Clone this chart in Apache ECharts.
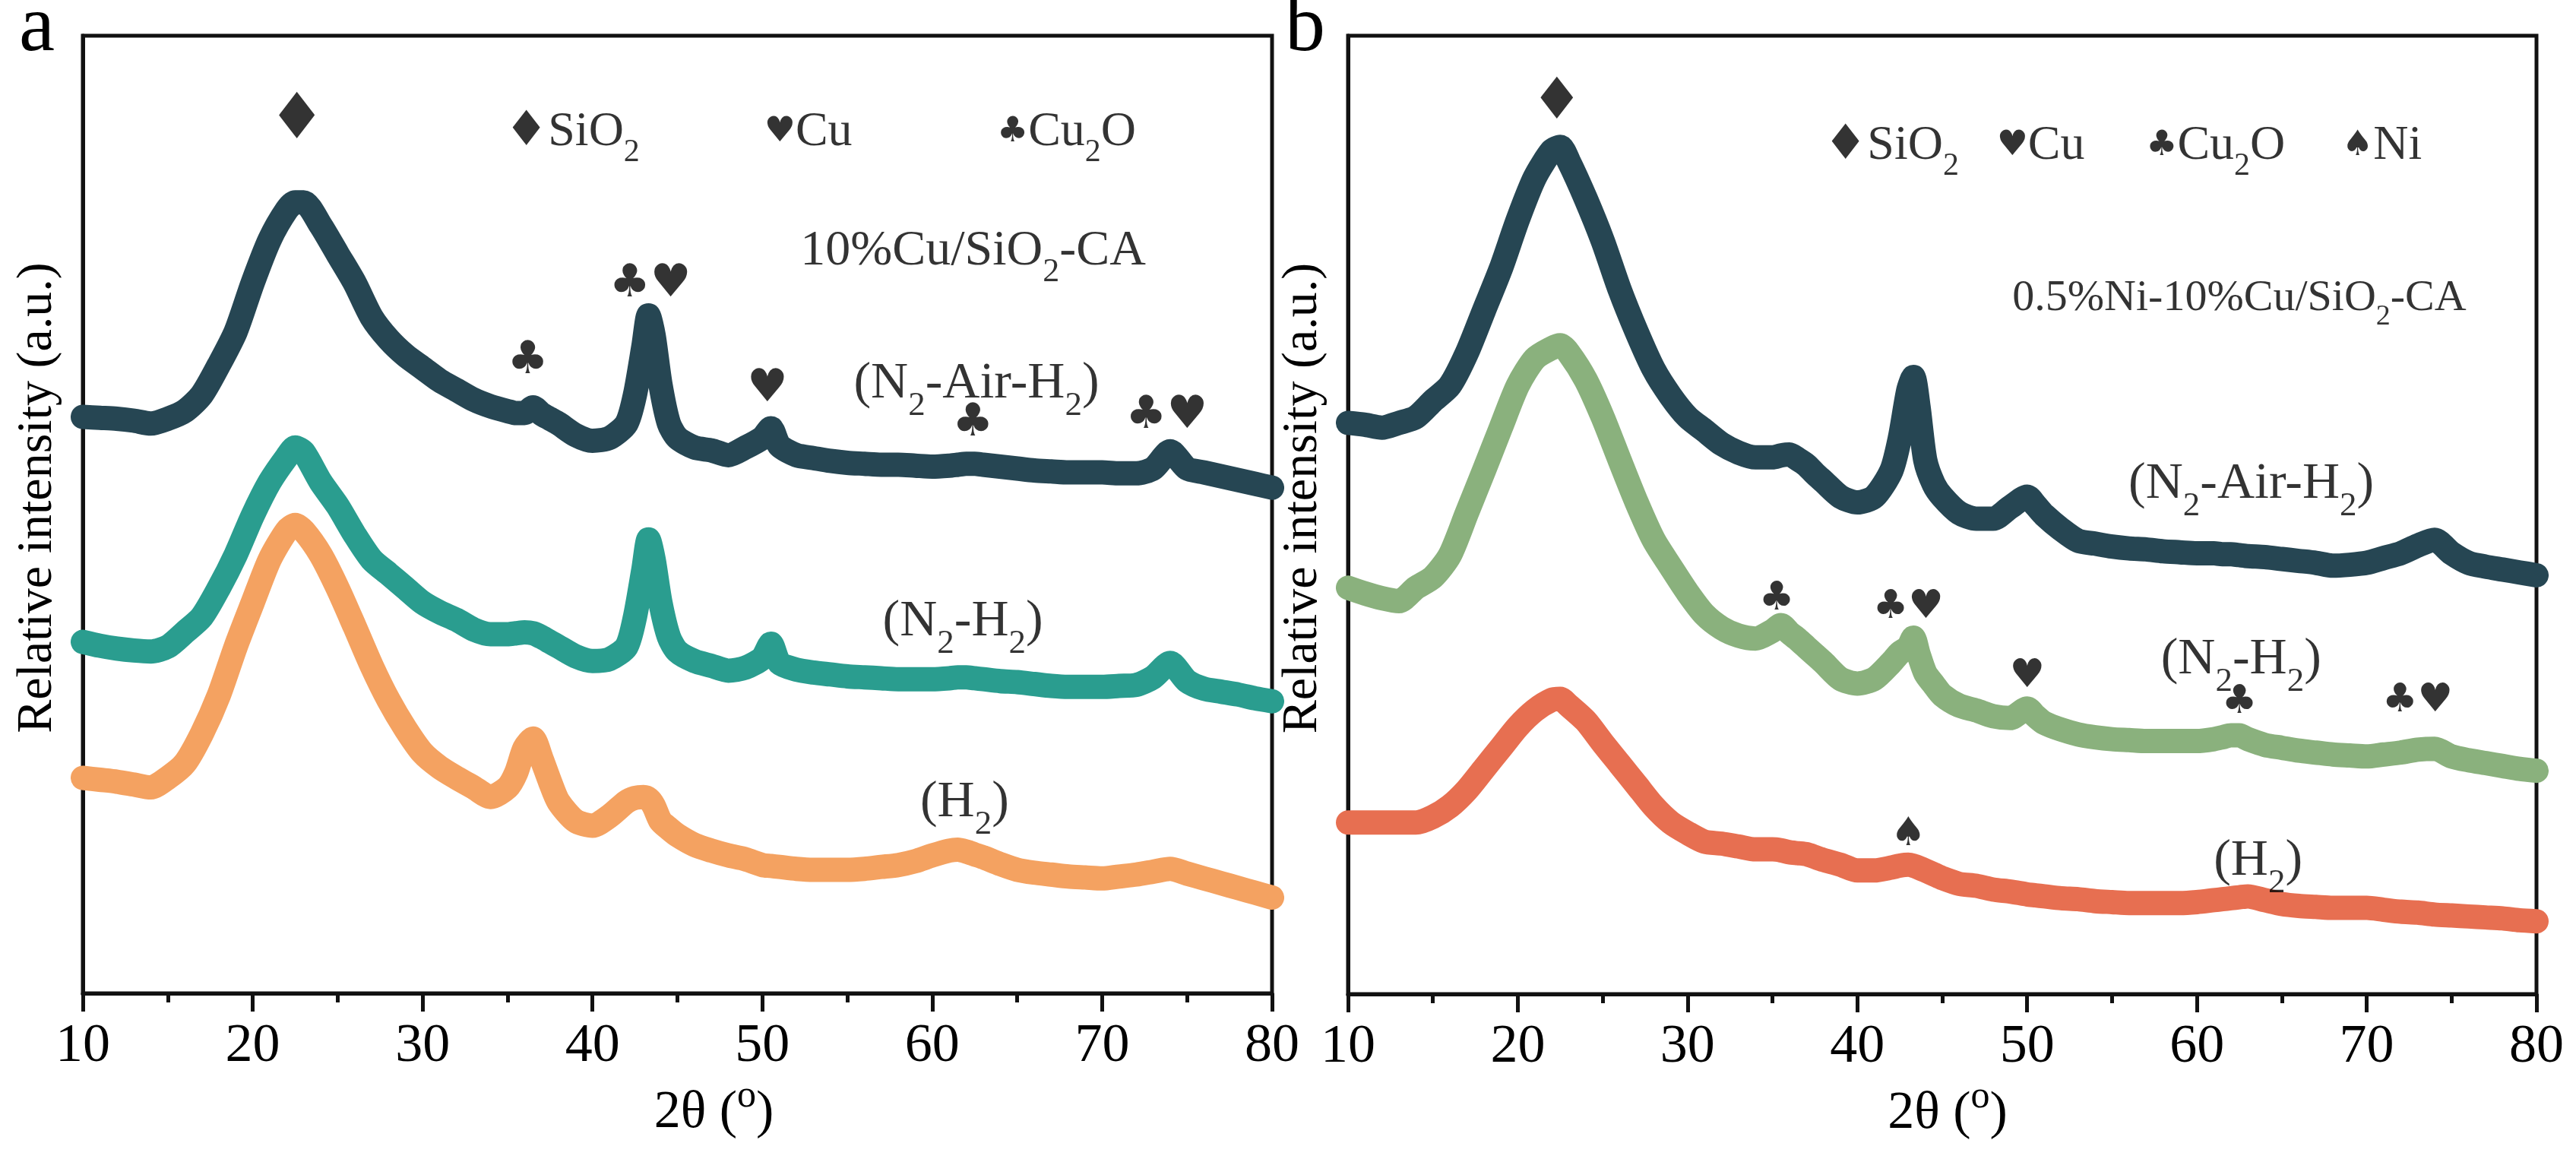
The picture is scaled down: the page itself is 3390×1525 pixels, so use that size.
<!DOCTYPE html>
<html>
<head>
<meta charset="utf-8">
<script src="https://cdn.jsdelivr.net/npm/echarts@6/dist/echarts.min.js"></script>
<style>
html,body{margin:0;padding:0;background:#fff;}
#chart{width:3390px;height:1525px;}
</style>
</head>
<body>
<div id="chart"></div>
<script>
// 2θ sampling positions (degrees)
const twoTheta = [10,11,12,13,14,15,16,17,18,19,20,21,22,22.5,23,24,25,26,27,28,29,30,31,32,33,34,35,35.5,36,36.5,37,37.5,38,39,40,41,42,42.5,43,43.3,43.6,44,44.5,45,46,47,48,49,50,50.5,51,52,53,54,55,56,57,58,59,60,61,61.5,62,62.5,63,64,65,66,67,68,69,70,71,72,73,74,75,76,77,78,79,80];

// Panel a: 10%Cu/SiO2-CA (stacked relative intensity, a.u.)
const aN2AirH2 = [60.2,60.1,60.0,59.8,59.5,60.0,60.8,62.5,65.6,69.1,74.2,78.7,81.8,82.6,82.6,80.2,77.2,74.2,70.6,68.3,66.6,65.3,64.0,63.0,62.0,61.3,60.8,60.6,60.6,61.2,60.5,60.0,59.5,58.3,57.7,58.0,59.5,62.5,67.6,70.8,68.7,63.6,59.5,58.0,57.0,56.7,56.2,57.0,58.0,59.0,57.2,56.2,55.9,55.6,55.4,55.3,55.2,55.2,55.1,55.0,55.1,55.2,55.3,55.3,55.2,55.0,54.8,54.6,54.5,54.4,54.4,54.4,54.3,54.3,54.8,56.6,54.8,54.4,54.0,53.6,53.2,52.8];
const aN2H2 = [36.7,36.3,36.0,35.8,35.7,36.2,37.7,39.3,42.3,45.8,49.9,53.4,56.0,57.0,56.5,53.4,50.9,47.9,45.3,43.8,42.3,40.8,39.8,39.0,38.0,37.5,37.5,37.6,37.7,37.6,37.2,36.7,36.2,35.2,34.7,34.9,36.2,39.3,44.3,47.4,45.3,40.8,37.2,35.7,34.7,34.2,33.7,34.0,35.0,36.5,34.5,33.8,33.5,33.3,33.1,33.0,32.9,32.8,32.8,32.8,32.9,33.0,33.0,32.9,32.8,32.6,32.5,32.3,32.1,32.0,32.0,32.0,32.1,32.2,33.0,34.5,32.6,31.8,31.5,31.2,30.8,30.5];
const aH2 = [22.5,22.3,22.1,21.8,21.5,22.5,24.0,27.1,31.1,36.2,40.8,45.3,48.3,48.9,48.3,45.8,42.3,38.3,34.2,30.6,27.6,25.1,23.6,22.5,21.5,20.5,21.5,23.0,25.6,26.6,24.5,22.1,20.0,18.0,17.5,18.5,20.0,20.4,20.5,20.3,19.6,18.0,17.2,16.5,15.5,14.9,14.4,14.0,13.4,13.3,13.2,13.0,12.9,12.9,12.9,13.0,13.2,13.4,13.8,14.4,14.9,15.0,14.8,14.5,14.2,13.5,12.9,12.6,12.4,12.2,12.1,12.0,12.2,12.4,12.7,13.0,12.5,12.0,11.5,11.0,10.5,10.0];

// Panel b: 0.5%Ni-10%Cu/SiO2-CA
const bN2AirH2 = [59.6,59.4,59.1,59.6,60.2,61.9,63.5,66.9,71.3,75.7,80.8,85.2,88.0,88.4,86.9,83.0,78.6,73.5,69.1,65.2,62.4,60.2,58.8,57.4,56.5,56.0,56.0,56.2,56.3,55.8,55.2,54.3,53.5,51.9,51.3,51.9,54.6,58.0,63.0,64.4,61.3,55.7,53.2,51.9,50.2,49.6,49.6,50.8,51.9,51.0,50.0,48.5,47.3,47.0,46.7,46.5,46.4,46.2,46.1,46.0,46.0,45.9,45.9,45.8,45.7,45.6,45.4,45.2,45.0,44.7,44.8,45.0,45.5,46.0,46.8,47.4,46.0,45.0,44.6,44.3,44.0,43.7];
const bN2H2 = [42.4,41.8,41.3,41.0,42.4,43.5,45.8,50.2,54.6,59.1,63.5,66.3,67.4,67.7,66.9,64.1,60.2,55.7,51.3,47.4,44.6,41.9,39.6,38.2,37.4,37.1,37.9,38.5,37.7,37.0,36.2,35.4,34.6,32.9,32.4,32.9,34.6,35.6,36.2,37.2,35.5,33.5,32.3,31.2,30.1,29.6,29.0,28.8,29.8,29.0,28.3,27.6,27.1,26.8,26.6,26.5,26.4,26.4,26.4,26.4,26.6,26.8,27.0,27.0,26.6,26.0,25.7,25.4,25.2,25.0,24.9,24.8,25.0,25.2,25.5,25.6,24.8,24.4,24.1,23.8,23.5,23.3];
const bH2 = [17.9,17.9,17.9,17.9,17.9,18.5,19.6,21.3,23.5,25.7,27.9,29.6,30.7,30.8,30.1,28.5,26.2,24.0,21.8,19.6,17.9,16.8,15.9,15.7,15.4,15.1,15.1,15.0,14.8,14.7,14.6,14.3,14.0,13.5,12.9,12.9,13.2,13.4,13.5,13.4,13.2,12.9,12.5,12.1,11.5,11.3,10.9,10.7,10.4,10.3,10.2,10.0,9.9,9.7,9.6,9.5,9.5,9.5,9.5,9.6,9.8,9.9,10.0,10.1,10.2,9.8,9.4,9.2,9.1,9.0,9.0,9.0,8.8,8.6,8.5,8.3,8.2,8.1,8.0,7.9,7.7,7.6];

// x-axis ticks
const xMin = 10, xMax = 80, xStep = 10;

// Peak markers (position in 2θ, height in plot units, symbol)
const markA_x = [22.6, 36.2, 43.4, 50.3, 62.4, 73.8];
const markA_y = [91.0, 66.0, 74.0, 63.1, 59.5, 60.3];
const markA_t = ['♦', '♣', '♣♥', '♥', '♣', '♣♥'];
const markB_x = [22.3, 35.25, 43.0, 50.0, 62.5, 73.0, 43.0];
const markB_y = [92.9, 41.2, 40.3, 33.1, 30.4, 30.6, 16.6];
const markB_t = ['♦', '♣', '♣♥', '♥', '♣', '♣♥', '♠'];

// Phase key
const keyA_x = [38.8, 52.7, 67.9];
const keyA_y = [89.9, 89.9, 89.9];
const keyA_t = ['{d|♦}SiO{sub|2}', '{k|♥}Cu', '{k|♣}Cu{sub|2}O'];
const keyB_x = [42.0, 50.8, 61.1, 70.9];
const keyB_y = [88.5, 88.5, 88.5, 88.5];
const keyB_t = ['{d|♦}SiO{sub|2}', '{k|♥}Cu', '{k|♣}Cu{sub|2}O', '{k|♠}Ni'];

// Sample / treatment labels
const nameA_x = [62.4, 62.6, 61.8, 61.9];
const nameA_y = [77.5, 63.6, 38.8, 19.9];
const nameA_t = ['10%Cu/SiO{sub|2}-CA', '(N{sub|2}-Air-H{sub|2})', '(N{sub|2}-H{sub|2})', '(H{sub|2})'];
const nameB_x = [62.5, 63.2, 62.6, 63.6];
const nameB_y = [72.6, 53.2, 34.9, 13.9];
const nameB_t = ['0.5%Ni-10%Cu/SiO{sub|2}-CA', '(N{sub|2}-Air-H{sub|2})', '(N{sub|2}-H{sub|2})', '(H{sub|2})'];

const seriesColorsA = ['#264653', '#2a9d8f', '#f4a261'];
const seriesColorsB = ['#264653', '#8ab17d', '#e76f51'];

const FONT = 'Liberation Serif';
const SYM = 'DejaVu Sans';

function pairs(ys) { return twoTheta.map((x, i) => [x, ys[i]]); }

function subRich(fs) {
  const s = Math.round(fs * 0.66);
  return {
    sub: { fontFamily: FONT, fontSize: s, lineHeight: s, padding: [Math.round(fs * 0.85), 0, 0, 0], color: '#000' },
    k: { fontFamily: SYM, fontSize: Math.round(fs * 0.72), color: '#000' },
    d: { fontFamily: SYM, fontSize: Math.round(fs * 1.0), color: '#000' }
  };
}

// sizeOf(text, index) -> font size
function textSeries(gi, xs, ys, ts, sizeOf, family) {
  return {
    type: 'scatter', xAxisIndex: gi, yAxisIndex: gi, symbolSize: 1, silent: true, z: 10,
    itemStyle: { color: 'rgba(0,0,0,0)' },
    data: xs.map((x, i) => {
      const fs = sizeOf(ts[i], i);
      return {
        value: [x, ys[i]],
        label: {
          show: true, position: 'inside', formatter: ts[i], color: '#000',
          fontFamily: family || FONT, fontSize: fs, lineHeight: fs,
          rich: subRich(fs)
        }
      };
    })
  };
}

function lineSeries(gi, ys, color, name) {
  return {
    type: 'line', name: name, xAxisIndex: gi, yAxisIndex: gi, data: pairs(ys),
    showSymbol: false, smooth: 0.25,
    lineStyle: { color: color, width: 32, join: 'round', cap: 'round' },
    z: 2
  };
}

function xAxisFor(gi, padLeft) {
  return {
    type: 'value', gridIndex: gi, min: xMin, max: xMax, interval: xStep,
    axisLine: { show: true, onZero: false, lineStyle: { color: '#111', width: 5 } },
    axisTick: { show: true, inside: false, length: 24, lineStyle: { color: '#111', width: 5 } },
    minorTick: { show: true, splitNumber: 2, length: 12, lineStyle: { color: '#111', width: 5 } },
    splitLine: { show: false },
    axisLabel: { color: '#000', fontFamily: FONT, fontSize: 72, margin: 34 },
    name: '2θ ({sup|o})', nameLocation: 'middle', nameGap: 108,
    nameTextStyle: {
      color: '#000', fontFamily: FONT, fontSize: 70, padding: [0, 0, 0, padLeft],
      rich: { sup: { fontFamily: FONT, fontSize: 50, lineHeight: 50, padding: [0, 0, 44, 0], color: '#000' } }
    }
  };
}

function yAxisFor(gi) {
  return {
    type: 'value', gridIndex: gi, min: 0, max: 100,
    axisLine: { show: true, lineStyle: { color: '#111', width: 5 } },
    axisTick: { show: false }, axisLabel: { show: false }, splitLine: { show: false },
    name: 'Relative intensity (a.u.)', nameLocation: 'middle', nameRotate: 90, nameGap: 26,
    nameTextStyle: { color: '#000', fontFamily: FONT, fontSize: 66, padding: [0, 0, 0, 44] }
  };
}

const markSizeA = (t) => t === '♦' ? 84 : 60;
const markSizeB = (t) => t === '♦' ? 76 : 52;
const keySize = () => 64;
const nameSizeA = (t, i) => i === 0 ? 66 : 68;
const nameSizeB = (t, i) => i === 0 ? 58 : 68;

const chart = echarts.init(document.getElementById('chart'), null, { renderer: 'canvas' });
chart.setOption({
  backgroundColor: '#fff',
  animation: false,
  textStyle: { fontFamily: FONT },
  title: [
    { text: 'a', left: 20, top: -20, textStyle: { fontFamily: FONT, fontSize: 106, fontWeight: 'normal', color: '#000' } },
    { text: 'b', left: 1686, top: -20, textStyle: { fontFamily: FONT, fontSize: 106, fontWeight: 'normal', color: '#000' } }
  ],
  grid: [
    { left: 109, right: 1716, top: 47, bottom: 218, show: true, borderColor: '#111', borderWidth: 5, backgroundColor: 'transparent' },
    { left: 1774, right: 52, top: 47, bottom: 217, show: true, borderColor: '#111', borderWidth: 5, backgroundColor: 'transparent' }
  ],
  xAxis: [xAxisFor(0, 96), xAxisFor(1, 14)],
  yAxis: [yAxisFor(0), yAxisFor(1)],
  series: [
    lineSeries(0, aN2AirH2, seriesColorsA[0], 'a N2-Air-H2'),
    lineSeries(0, aN2H2, seriesColorsA[1], 'a N2-H2'),
    lineSeries(0, aH2, seriesColorsA[2], 'a H2'),
    lineSeries(1, bN2AirH2, seriesColorsB[0], 'b N2-Air-H2'),
    lineSeries(1, bN2H2, seriesColorsB[1], 'b N2-H2'),
    lineSeries(1, bH2, seriesColorsB[2], 'b H2'),
    textSeries(0, markA_x, markA_y, markA_t, markSizeA, SYM),
    textSeries(1, markB_x, markB_y, markB_t, markSizeB, SYM),
    textSeries(0, keyA_x, keyA_y, keyA_t, keySize),
    textSeries(1, keyB_x, keyB_y, keyB_t, keySize),
    textSeries(0, nameA_x, nameA_y, nameA_t, nameSizeA),
    textSeries(1, nameB_x, nameB_y, nameB_t, nameSizeB)
  ]
});
</script>
</body>
</html>
